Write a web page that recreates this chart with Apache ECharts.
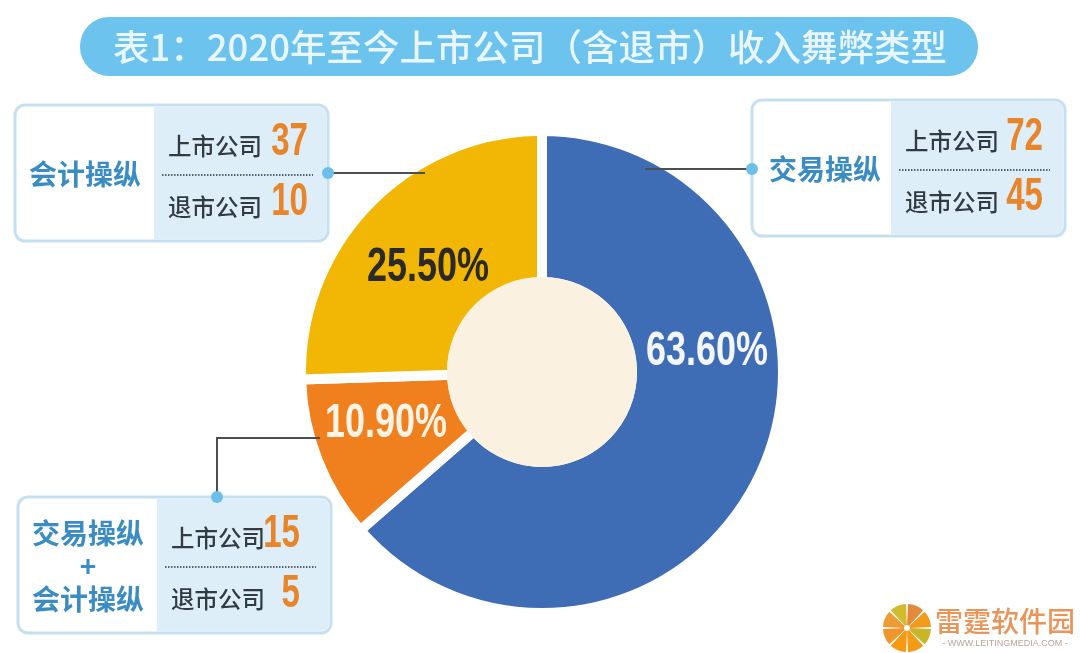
<!DOCTYPE html>
<html>
<head>
<meta charset="utf-8">
<style>
  html, body { margin: 0; padding: 0; background: #fff; }
  #main { width: 1080px; height: 653px; }
</style>
<script src="https://cdn.jsdelivr.net/npm/echarts@6/dist/echarts.min.js"></script>
</head>
<body>
<div id="main"></div>
<script>
// 数据
var titleText = '表1：2020年至今上市公司（含退市）收入舞弊类型';
var categories = ['交易操纵', '交易操纵+会计操纵', '会计操纵'];
var shares = [63.6, 10.9, 25.5];
var listedCounts = [72, 15, 37];
var delistedCounts = [45, 5, 10];
var rowNames = ['上市公司', '退市公司'];

var cjk = '"Noto Sans CJK SC", sans-serif';
var latin = '"Liberation Sans", sans-serif';
var sliceColors = ['#3f6db5', '#f07f1d', '#f2b705'];
var labelColors = ['#f3f7fb', '#fdf3e6', '#2b2a26'];
var labelPositions = [[707, 352], [386, 424], [428, 268]];

var graphics = [];

// 标题
graphics.push({
  type: 'rect', z: 10,
  shape: { x: 80, y: 17, width: 898, height: 59, r: 29 },
  style: { fill: '#6cc3ee' }
});
graphics.push({
  type: 'text', z: 11, x: 530, y: 47,
  style: {
    text: titleText, fill: '#e9f6fb', font: '500 36.5px ' + cjk,
    align: 'center', verticalAlign: 'middle'
  }
});

// 信息框
function addBox(x, y, index, nameLines, nameX, numRight) {
  var w = 313, h = 136, split = 139;
  graphics.push({
    type: 'rect', z: 10,
    shape: { x: x, y: y, width: w, height: h, r: 10 },
    style: { fill: '#fff', stroke: '#c6e0ef', lineWidth: 3 }
  });
  graphics.push({
    type: 'rect', z: 11,
    shape: { x: x + split, y: y + 2, width: w - split - 2, height: h - 4, r: [0, 8, 8, 0] },
    style: { fill: '#deeef9' }
  });
  nameLines.forEach(function (line, i) {
    var lineY = y + 69 + (i - (nameLines.length - 1) / 2) * 33;
    graphics.push({
      type: 'text', z: 12, x: x + nameX, y: lineY,
      style: {
        text: line, fill: '#3a8cc2', font: 'bold 28px ' + cjk,
        align: 'center', verticalAlign: 'middle'
      }
    });
  });
  graphics.push({
    type: 'line', z: 12,
    shape: { x1: x + 147, y1: y + 70, x2: x + 298, y2: y + 70 },
    style: { stroke: '#55626b', lineWidth: 2, lineDash: [1.5, 1.5] }
  });
  [listedCounts[index], delistedCounts[index]].forEach(function (num, i) {
    graphics.push({
      type: 'text', z: 12, x: x + 153, y: y + 41 + i * 61,
      style: {
        text: rowNames[i], fill: '#333b42', font: '500 23.5px ' + cjk,
        align: 'left', verticalAlign: 'middle'
      }
    });
    graphics.push({
      type: 'text', z: 12, x: x + numRight, y: y + 37 + i * 60,
      scaleX: 0.72,
      style: {
        text: String(num), fill: '#e8842a', font: 'bold 46px ' + latin,
        align: 'right', verticalAlign: 'middle'
      }
    });
  });
}
addBox(752, 100, 0, ['交易操纵'], 73, 291);
addBox(18, 497, 1, ['交易操纵', '+', '会计操纵'], 70, 282);
addBox(15, 105, 2, ['会计操纵'], 70, 293);

// 引线
function addLeader(points, dotX, dotY) {
  graphics.push({
    type: 'polyline', z: 20,
    shape: { points: points },
    style: { stroke: '#4a4f52', lineWidth: 2, fill: null }
  });
  graphics.push({
    type: 'circle', z: 21,
    shape: { cx: dotX, cy: dotY, r: 6 },
    style: { fill: '#6cbfe8' }
  });
}
addLeader([[752, 169], [645, 169]], 752, 169);
addLeader([[328, 173], [425, 173]], 328, 173);
addLeader([[217, 497], [217, 438], [320, 438]], 217, 497);

// 圆环中心
graphics.push({
  type: 'circle', z: 9,
  shape: { cx: 542, cy: 372, r: 95 },
  style: { fill: '#fbf1e1' }
});

// 百分比标签（窄体字，饼图自带标签无法横向压缩）
shares.forEach(function (share, i) {
  graphics.push({
    type: 'text', z: 15, x: labelPositions[i][0], y: labelPositions[i][1],
    scaleX: 0.75,
    style: {
      text: share.toFixed(2) + '%', fill: labelColors[i], font: 'bold 48px ' + latin,
      align: 'center', verticalAlign: 'middle'
    }
  });
});

// 水印
var logoColors = ['#e38a3c', '#f29a1c', '#c9b52a', '#f59a14', '#f79a12', '#f0962a', '#ee9a35', '#d2bb2c'];
logoColors.forEach(function (color, i) {
  var start = -Math.PI / 2 + i * Math.PI / 4 + 0.04;
  graphics.push({
    type: 'sector', z: 10,
    shape: { cx: 907, cy: 628, r0: 3, r: 24, startAngle: start, endAngle: start + Math.PI / 4 - 0.08 },
    style: { fill: color }
  });
});
graphics.push({
  type: 'text', z: 10, x: 935, y: 621,
  style: {
    text: '雷霆软件园', fill: '#e9955a', font: '500 28px ' + cjk,
    align: 'left', verticalAlign: 'middle'
  }
});
graphics.push({
  type: 'text', z: 10, x: 1005, y: 644,
  style: {
    text: '- WWW.LEITINGMEDIA.COM -', fill: '#b9a596', font: '9px ' + latin,
    align: 'center', verticalAlign: 'middle'
  }
});

var myChart = echarts.init(document.getElementById('main'), null, { renderer: 'canvas' });
var option = {
  animation: false,
  backgroundColor: '#fff',
  graphic: { elements: graphics },
  series: [
    {
      name: '收入舞弊类型',
      type: 'pie',
      center: [542, 372],
      radius: [90, 241],
      startAngle: 90,
      clockwise: true,
      silent: true,
      itemStyle: { borderColor: '#fff', borderWidth: 10 },
      label: { show: false },
      labelLine: { show: false },
      data: categories.map(function (name, i) {
        return {
          name: name,
          value: shares[i],
          itemStyle: { color: sliceColors[i] }
        };
      })
    }
  ]
};
myChart.setOption(option);
window.addEventListener('resize', function () {
  myChart.resize();
});
</script>
</body>
</html>
